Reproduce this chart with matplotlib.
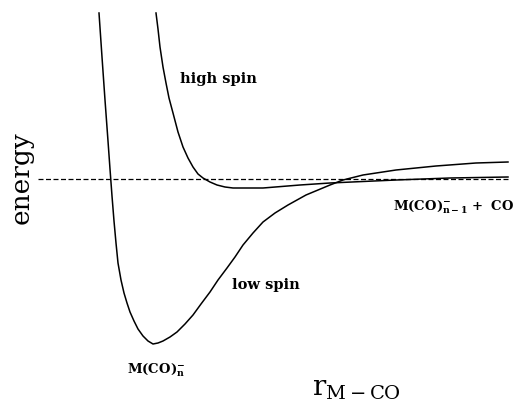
import matplotlib
matplotlib.use("Agg")
import matplotlib.pyplot as plt

# Potential energy curves for M(CO)n- : low spin vs high spin
# r in arbitrary units, energy relative to the M(CO)n-1- + CO asymptote

plt.rcParams["font.family"] = "DejaVu Serif"
plt.rcParams["mathtext.fontset"] = "dejavuserif"

r_low = [99, 102, 105, 108, 110, 112, 114, 116, 118, 121, 124, 127, 130, 134,
         138, 143, 148, 153, 158, 163, 170, 177, 185, 193, 201, 210, 218, 227,
         235, 243, 253, 263, 275, 288, 306, 330, 343, 363, 396, 436, 476, 508]
e_low = [166, 122, 79, 38, 10, -17, -42, -64, -84, -101, -114, -124, -133, -142,
         -150, -157, -162, -165, -164, -162, -158, -153, -145, -136, -125, -113,
         -101, -89, -78, -66, -54, -43, -34, -26, -16, -6, -1, 4, 9, 13, 16, 17]

r_high = [156, 158, 160, 163, 166, 169, 173, 178, 183, 188, 193, 198, 203, 210,
          217, 225, 233, 263, 300, 330, 396, 450, 508]
e_high = [166, 150, 132, 112, 96, 81, 66, 47, 32, 21, 12, 5, 1, -3,
          -6, -8, -9, -9, -6, -4, -1, 1, 2]

r_asym = [38, 508]
e_asym = [0, 0]

fig = plt.figure(figsize=(5.26, 4.09), dpi=100)
ax = fig.add_axes([0, 0, 1, 1])
ax.set_xlim(0, 526)
ax.set_ylim(-230, 179)
ax.axis("off")

ax.plot(r_low, e_low, color="k", lw=1.1)
ax.plot(r_high, e_high, color="k", lw=1.1)
ax.plot(r_asym, e_asym, color="k", lw=0.9, linestyle=(0, (4, 2)))

# Legendas
ax.text(180, 100, "high spin", fontsize=10.5, fontweight="bold", va="center")
ax.text(232, -106, "low spin", fontsize=10.5, fontweight="bold", va="center")
ax.text(127, -191, r"$\mathbf{M(CO)}_{\mathbf{n}}^{\mathbf{-}}$", fontsize=9.5, va="center")
ax.text(393, -28, r"$\mathbf{M(CO)}_{\mathbf{n-1}}^{\mathbf{-}}\ \mathbf{+\ \ CO}$",
        fontsize=9.5, va="center")
ax.text(21, 1, "energy", fontsize=19, rotation=90, ha="center", va="center")
ax.text(312, -216, r"$\mathrm{r}_{\mathrm{M-CO}}$", fontsize=20, va="baseline")

fig.savefig("out.png", dpi=100)
